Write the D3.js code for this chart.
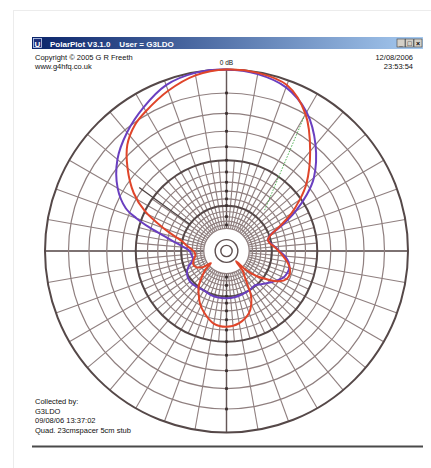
<!DOCTYPE html>
<meta charset="utf-8">
<style>
body{ margin:0; background:#fff; }
text{ font-family:"Liberation Sans", Arial, sans-serif; }
.ring{ fill:none; stroke:#8f7f7f; stroke-width:1.2; }
.major{ fill:none; stroke:#554848; stroke-width:2; }
.spoke{ stroke:#8f7f7f; stroke-width:1.1; }
.axisSpoke{ stroke:#655858; stroke-width:1.4; }
</style>
<svg class="chart" width="431" height="468"></svg>
<script src="https://cdn.jsdelivr.net/npm/d3@7"></script>
<script>
// pattern 1 (purple) : bearing in degrees, level in dB
var purpleAngles = [0,10,20,30,40,50,55,60,65,70,75,80,85,90,95,100,105,110,115,120,130,140,150,160,170,180,190,200,210,220,230,240,248,252,257,264,270,276,280,284,287,290,293,300,310,320,330,340,350];
var purpleDb =     [0,-0.15,-0.6,-1.8,-3.9,-6.7,-8.9,-11.8,-15.5,-19.6,-20.8,-20.2,-19.0,-17.8,-16.3,-15.3,-14.8,-14.9,-15.3,-16.3,-18.4,-20.2,-20.0,-19.8,-19.5,-19.4,-19.4,-19.6,-20.0,-19.6,-19.3,-19.9,-21.5,-23.0,-24.0,-23.6,-23.0,-20.3,-17.7,-14.6,-11.7,-9.2,-7.3,-5.3,-3.5,-2.3,-1.3,-0.4,-0.05];

// pattern 2 (red)
var redAngles = [0,10,20,30,40,50,55,60,65,70,75,80,85,90,95,100,105,110,115,120,125,130,134,137,141,145,148,151,155,160,170,180,190,200,207,213,218,224,228,232,236,242,248,255,262,268,274,278,282,286,290,296,302,310,317,324,330,340,350];
var redDb =     [0,-0.05,-0.4,-2.0,-4.8,-8.0,-10.2,-12.8,-16.2,-19.4,-20.8,-20.4,-19.2,-18.0,-16.8,-15.6,-14.7,-14.3,-14.5,-15.8,-18.8,-22.2,-27,-37,-28,-25,-22,-18.5,-16.3,-14.6,-13.1,-12.6,-13.0,-14.7,-16.3,-18.3,-20.0,-23.8,-26.5,-32,-26.5,-24.0,-23.4,-24.2,-25.3,-25.0,-23.3,-21.6,-20.2,-17.5,-14.3,-10.0,-7.3,-4.9,-3.2,-2.2,-1.7,-0.9,-0.25];

// grid levels (dB)
var majorRings = [0, -10, -20];
var minorRings = [-2,-4,-6,-8,-12,-14,-16,-18,-22,-24,-26,-28,-30];
var innerRings = [-40, -50];
var dotLevels = [-2,-4,-6,-8,-10,-12,-14,-16,-18,-20,-24,-28];

// beam markers
var markerGreen = [{a:43, db:-17}, {a:30, db:-2.2}];
var markerDark = [{a:306, db:-20}, {a:306, db:-7.5}];

var headLeft = ["Copyright \u00a9 2005 G R Freeth", "www.g4hfq.co.uk"];
var headRight = ["12/08/2006", "23:53:54"];
var notes = ["Collected by:", "G3LDO", "09/08/06 13:37:02", "Quad. 23cmspacer 5cm stub"];

var cx = 226.5, cy = 251, R = 181.5;

// 10 dB halves the radius
var rScale = d3.scaleLog().base(2).domain([R/32, R]).range([-50, 0]);
function rad(db){ return rScale.invert(db); }

var svg = d3.select(".chart");

// page frame
svg.append("rect").attr("x",13.5).attr("y",10.5).attr("width",440).attr("height",480)
	.attr("fill","none").attr("stroke","#ececec");

// window
var defs = svg.append("defs");
var grad = defs.append("linearGradient").attr("id","tb");
grad.append("stop").attr("offset","0%").attr("stop-color","#0a246a");
grad.append("stop").attr("offset","100%").attr("stop-color","#a6caf0");

svg.append("rect").attr("x",32).attr("y",37).attr("width",391).attr("height",410).attr("fill","#fff");
svg.append("rect").attr("x",32).attr("y",37).attr("width",391).attr("height",12).attr("fill","url(#tb)");
svg.append("rect").attr("x",33.5).attr("y",38.5).attr("width",8).attr("height",9).attr("fill","#1c2f7a").attr("stroke","#c8d4f0").attr("stroke-width",0.8);
svg.append("text").attr("x",37.5).attr("y",46.5).attr("text-anchor","middle").attr("fill","#fff")
	.attr("font-size",8).attr("font-weight","bold").text("U");
svg.append("text").attr("x",50).attr("y",46.5).attr("fill","#fff").attr("font-size",8).attr("font-weight","bold")
	.attr("xml:space","preserve").text("PolarPlot V3.1.0    User = G3LDO");

var btn = svg.append("g");
[397, 405.5, 414].forEach(function(x, i){
	btn.append("rect").attr("x",x).attr("y",39).attr("width",8).attr("height",8)
		.attr("fill","#d4d0c8").attr("stroke","#404040").attr("stroke-width",0.6);
	btn.append("text").attr("x",x+4).attr("y",46).attr("text-anchor","middle").attr("font-size",7)
		.attr("font-weight","bold").attr("fill","#000").text(["_","\u25a1","\u00d7"][i]);
});

svg.append("line").attr("x1",32).attr("x2",423).attr("y1",446.5).attr("y2",446.5)
	.attr("stroke","#4a4a4a").attr("stroke-width",2);

// header / footer text
svg.selectAll(".hl").data(headLeft).enter().append("text")
	.attr("x",35).attr("y",function(d,i){ return 60 + i*9; })
	.attr("font-size",7.5).attr("fill","#111").text(function(d){ return d; });
svg.selectAll(".hr").data(headRight).enter().append("text")
	.attr("x",413).attr("y",function(d,i){ return 60 + i*9; }).attr("text-anchor","end")
	.attr("font-size",7.5).attr("fill","#111").text(function(d){ return d; });
svg.selectAll(".nt").data(notes).enter().append("text")
	.attr("x",35).attr("y",function(d,i){ return 404 + i*9.7; })
	.attr("font-size",7.5).attr("fill","#111").text(function(d){ return d; });

// polar plot
var g = svg.append("g").attr("transform","translate("+cx+","+cy+")");

// spokes: every 5 deg inside -10 dB, every 10 deg out to 0 dB
g.selectAll(".s5").data(d3.range(0,360,5)).enter().append("line")
	.attr("class","spoke")
	.attr("x1",function(a){ return rad(-30)*Math.sin(a*Math.PI/180); })
	.attr("y1",function(a){ return -rad(-30)*Math.cos(a*Math.PI/180); })
	.attr("x2",function(a){ var rr = a%10 ? rad(-10) : R; return rr*Math.sin(a*Math.PI/180); })
	.attr("y2",function(a){ var rr = a%10 ? rad(-10) : R; return -rr*Math.cos(a*Math.PI/180); });

g.selectAll(".ax").data([0,90,180,270]).enter().append("line")
	.attr("class","axisSpoke")
	.attr("x1",function(a){ return rad(-30)*Math.sin(a*Math.PI/180); })
	.attr("y1",function(a){ return -rad(-30)*Math.cos(a*Math.PI/180); })
	.attr("x2",function(a){ return R*Math.sin(a*Math.PI/180); })
	.attr("y2",function(a){ return -R*Math.cos(a*Math.PI/180); });

g.selectAll(".mr").data(minorRings).enter().append("circle")
	.attr("class","ring").attr("r",function(d){ return rad(d); });
g.selectAll(".Mr").data(majorRings).enter().append("circle")
	.attr("class","major").attr("r",function(d){ return rad(d); });
g.selectAll(".ir").data(innerRings).enter().append("circle")
	.attr("fill","none").attr("stroke","#5e5050").attr("stroke-width",1.4)
	.attr("r",function(d){ return rad(d); });

// scale dots on the vertical axis
g.selectAll(".dot").data(dotLevels.map(function(d){ return [d,0]; }).concat(dotLevels.map(function(d){ return [d,180]; })))
	.enter().append("rect")
	.attr("x",-1.4).attr("width",2.8).attr("height",2.6)
	.attr("y",function(d){ return (d[1] ? rad(d[0]) : -rad(d[0])) - 1.3; })
	.attr("fill","#3a3030");

// markers
var mline = d3.lineRadial()
	.angle(function(d){ return d.a*Math.PI/180; })
	.radius(function(d){ return rad(d.db); });
g.append("path").attr("d",mline(markerGreen)).attr("fill","none")
	.attr("stroke","#4caf50").attr("stroke-width",1).attr("stroke-dasharray","1.5,1.5");
g.append("path").attr("d",mline(markerDark)).attr("fill","none")
	.attr("stroke","#4a3f3f").attr("stroke-width",1.2);

// patterns
var pline = d3.lineRadial()
	.angle(function(d){ return d.a*Math.PI/180; })
	.radius(function(d){ return rad(d.db); })
	.curve(d3.curveCatmullRomClosed.alpha(0.5));

var purple = purpleAngles.map(function(a,i){ return {a:a, db:purpleDb[i]}; });
var red = redAngles.map(function(a,i){ return {a:a, db:redDb[i]}; });

g.append("path").attr("d",pline(purple)).attr("fill","none")
	.attr("stroke","#6a3fc0").attr("stroke-width",2);
g.append("path").attr("d",pline(red)).attr("fill","none")
	.attr("stroke","#e0452a").attr("stroke-width",2);

svg.append("text").attr("x",cx).attr("y",65).attr("text-anchor","middle")
	.attr("font-size",6.5).attr("fill","#111").text("0 dB");
</script>
